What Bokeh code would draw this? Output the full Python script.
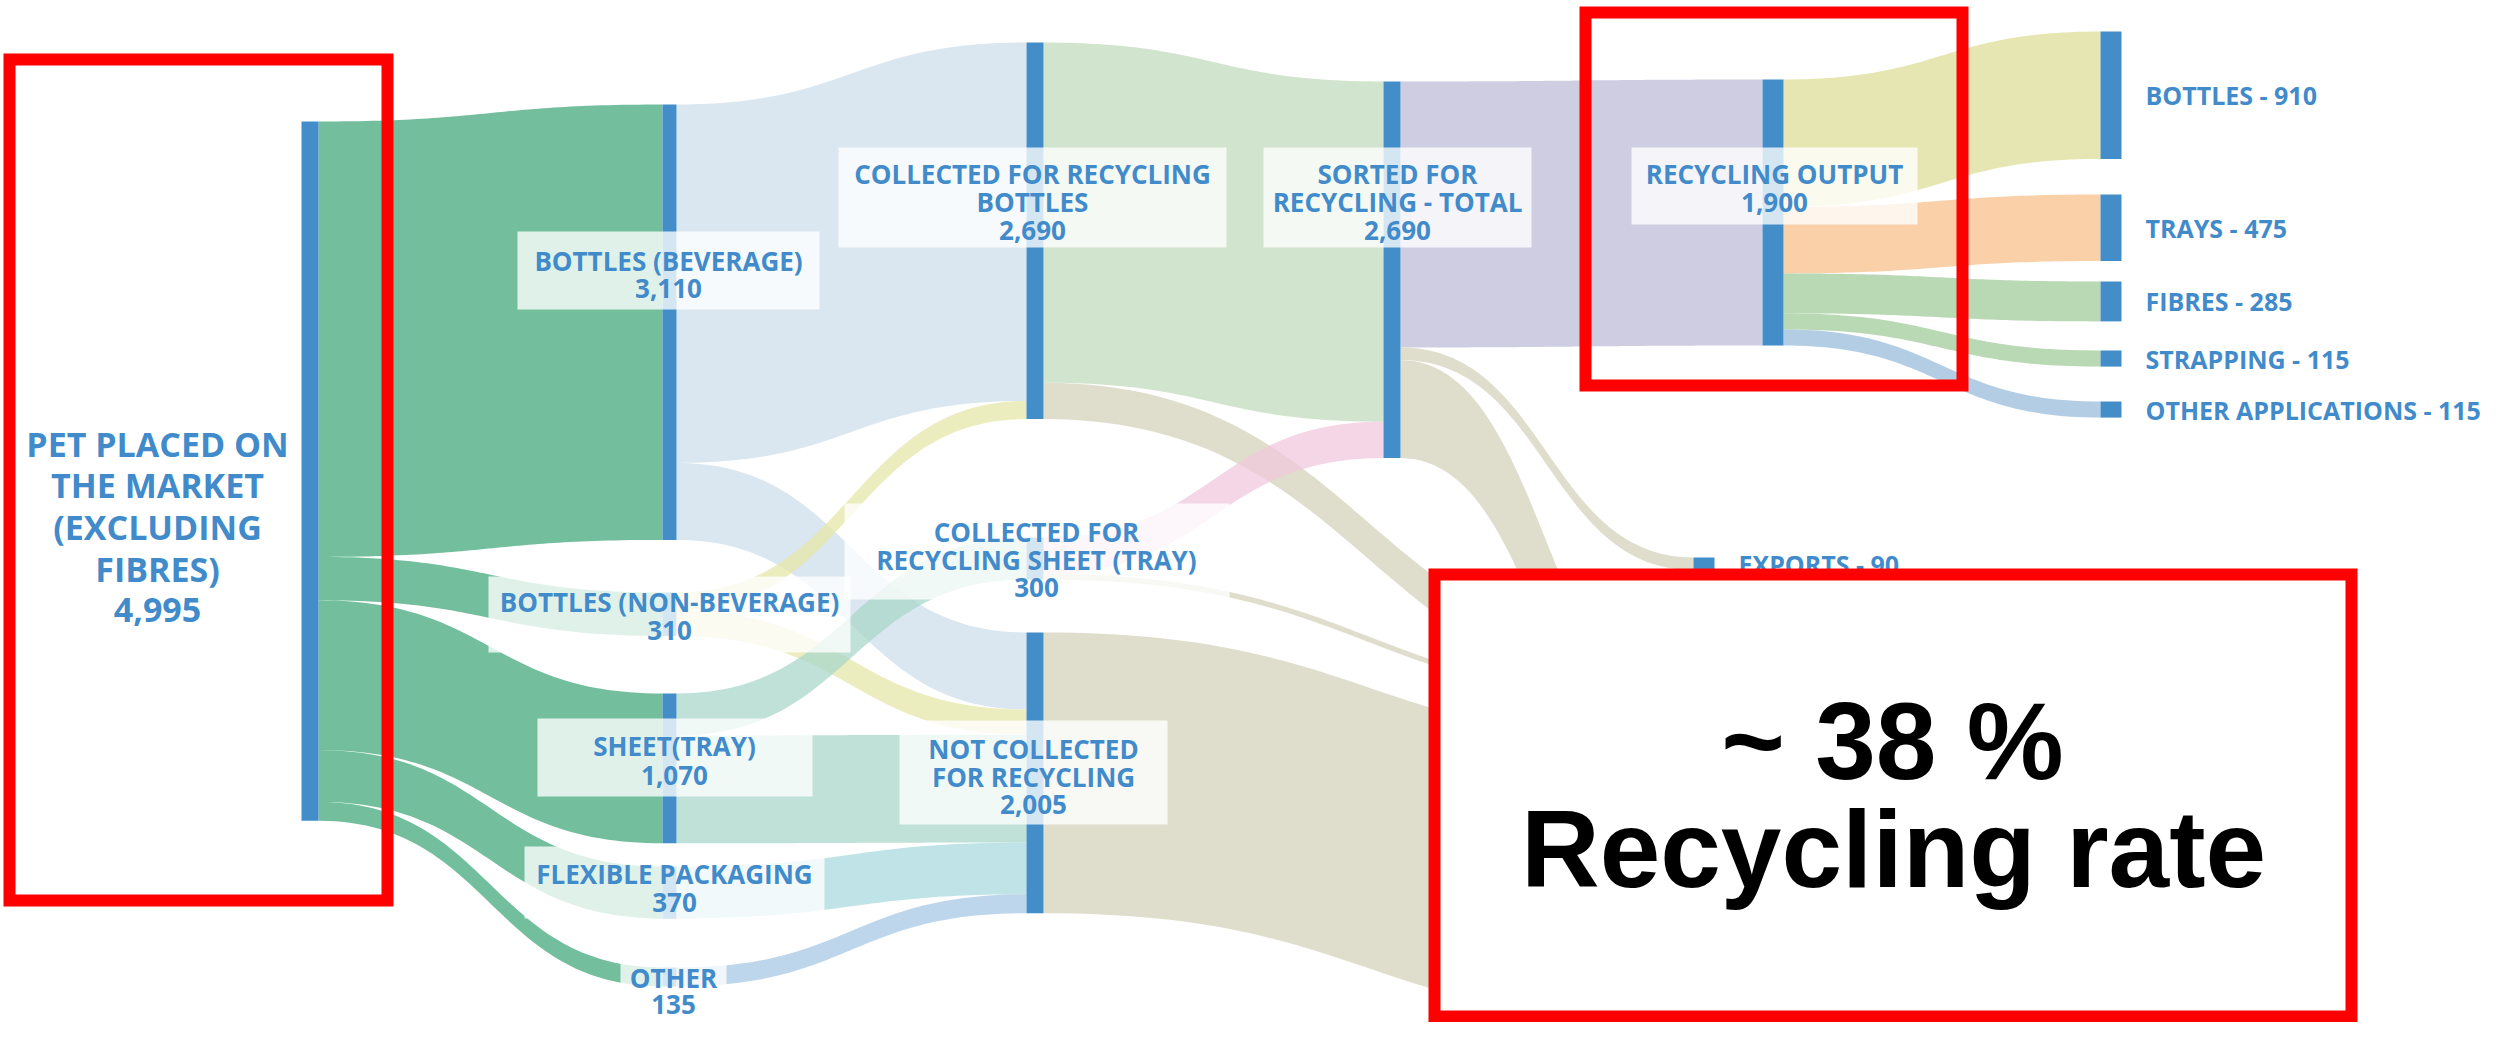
import numpy as np
from bokeh.plotting import figure
from bokeh.models import Range1d
from bokeh.core.properties import value
from bokeh.embed import file_html
from bokeh.resources import INLINE

# ---------------- DATA ----------------
node_ids = ["PET", "BEV", "NONBEV", "SHEET", "FLEX", "OTHER",
            "COLL_B", "COLL_S", "NOT_COLL", "SORTED", "REC_OUT", "EXPORTS",
            "OUT_BOTTLES", "OUT_TRAYS", "OUT_FIBRES", "OUT_STRAP", "OUT_OTHER",
            "LOSS_COLL", "LOSS_SORT", "DISPOSAL"]
node_names = ["PET PLACED ON\nTHE MARKET\n(EXCLUDING\nFIBRES)",
              "BOTTLES (BEVERAGE)", "BOTTLES (NON-BEVERAGE)", "SHEET(TRAY)",
              "FLEXIBLE PACKAGING", "OTHER",
              "COLLECTED FOR RECYCLING\nBOTTLES", "COLLECTED FOR\nRECYCLING SHEET (TRAY)",
              "NOT COLLECTED\nFOR RECYCLING", "SORTED FOR\nRECYCLING - TOTAL",
              "RECYCLING OUTPUT", "EXPORTS",
              "BOTTLES", "TRAYS", "FIBRES", "STRAPPING", "OTHER APPLICATIONS",
              "", "", ""]

link_source = ["PET", "PET", "PET", "PET", "PET",
               "BEV", "BEV", "NONBEV", "NONBEV", "SHEET", "SHEET", "FLEX", "OTHER",
               "COLL_B", "COLL_B", "COLL_S", "COLL_S", "NOT_COLL",
               "SORTED", "SORTED", "SORTED",
               "REC_OUT", "REC_OUT", "REC_OUT", "REC_OUT", "REC_OUT"]
link_target = ["BEV", "NONBEV", "SHEET", "FLEX", "OTHER",
               "COLL_B", "NOT_COLL", "COLL_B", "NOT_COLL", "COLL_S", "NOT_COLL", "NOT_COLL", "NOT_COLL",
               "SORTED", "LOSS_COLL", "SORTED", "LOSS_COLL", "DISPOSAL",
               "REC_OUT", "EXPORTS", "LOSS_SORT",
               "OUT_BOTTLES", "OUT_TRAYS", "OUT_FIBRES", "OUT_STRAP", "OUT_OTHER"]
link_value = [3110, 310, 1070, 370, 135,
              2560, 550, 130, 180, 300, 770, 370, 135,
              2430, 260, 260, 40, 2005,
              1900, 90, 700,
              910, 475, 285, 115, 115]
link_color = ["#73bf9d"] * 5 + \
             ["#dae6f0", "#dae6f0", "#ecedbe", "#ecedbe", "#bfe1d7", "#bfe1d7", "#c0e3e8", "#bdd6ec",
              "#d1e4cd", "#dfdecc", "#f4d6e6", "#dfdecc", "#dfdecc",
              "#cfcde2", "#dfdecc", "#dfdecc",
              "#e6e6b2", "#f9d0a8", "#b9d8b4", "#b9d8b4", "#b3cee4"]

big_text = ["~ 38 %", "Recycling rate"]

# ---------------- LAYOUT ----------------
K = 0.14  # px per unit
node_x = {"PET": 301, "BEV": 662, "NONBEV": 662, "SHEET": 662, "FLEX": 662, "OTHER": 662,
          "COLL_B": 1026, "COLL_S": 1026, "NOT_COLL": 1026, "SORTED": 1383, "REC_OUT": 1762,
          "EXPORTS": 1693, "OUT_BOTTLES": 2100, "OUT_TRAYS": 2100, "OUT_FIBRES": 2100,
          "OUT_STRAP": 2100, "OUT_OTHER": 2100, "LOSS_COLL": 1693, "LOSS_SORT": 1693, "DISPOSAL": 1693}
node_w = {"PET": 17, "BEV": 14, "NONBEV": 14, "SHEET": 14, "FLEX": 14, "OTHER": 14,
          "COLL_B": 17, "COLL_S": 17, "NOT_COLL": 17, "SORTED": 17, "REC_OUT": 21,
          "EXPORTS": 21, "OUT_BOTTLES": 21, "OUT_TRAYS": 21, "OUT_FIBRES": 21,
          "OUT_STRAP": 21, "OUT_OTHER": 21, "LOSS_COLL": 21, "LOSS_SORT": 21, "DISPOSAL": 21}
node_top = {"PET": 121, "BEV": 104, "NONBEV": 592, "SHEET": 693, "FLEX": 866, "OTHER": 967,
            "COLL_B": 42, "COLL_S": 537, "NOT_COLL": 632, "SORTED": 81, "REC_OUT": 79,
            "EXPORTS": 557, "OUT_BOTTLES": 31, "OUT_TRAYS": 194, "OUT_FIBRES": 281,
            "OUT_STRAP": 350, "OUT_OTHER": 401, "LOSS_COLL": 662, "LOSS_SORT": 725, "DISPOSAL": 742}
hidden = {"LOSS_COLL", "LOSS_SORT", "DISPOSAL"}

# boxed labels: center x, first line y, line spacing, (box x0, x1, y0, y1)
boxed = {
    "BEV": (668, 260, 27.5, (517, 819, 231, 309)),
    "NONBEV": (669, 601, 29, (488, 850, 576, 652)),
    "SHEET": (674, 745, 29.5, (537, 812, 718, 796)),
    "FLEX": (674, 873, 28.5, (524, 824, 846, 918)),
    "OTHER": (673, 977, 27, (620, 726, 955, 1030)),
    "COLL_B": (1032, 173, 28.5, (838, 1226, 147, 247)),
    "COLL_S": (1036, 531, 28, (844, 1229, 503, 599)),
    "NOT_COLL": (1033, 748, 28, (899, 1167, 720, 824)),
    "SORTED": (1397, 173, 28.5, (1263, 1531, 147, 247)),
    "REC_OUT": (1774, 173, 29, (1631, 1917, 147, 224)),
}
side = ["EXPORTS", "OUT_BOTTLES", "OUT_TRAYS", "OUT_FIBRES", "OUT_STRAP", "OUT_OTHER"]

BLUE = "#438dc9"
TXT = "#418bcb"
FONT = value("Open Sans")
ALPHA = 0.75


def base_color(hexc, a):
    r, g, b = int(hexc[1:3], 16), int(hexc[3:5], 16), int(hexc[5:7], 16)
    f = lambda c: int(max(0, min(255, round(255 - (255 - c) / a))))
    return "#%02x%02x%02x" % (f(r), f(g), f(b))


# node values
vin = {n: 0 for n in node_ids}
vout = {n: 0 for n in node_ids}
for s, t, v in zip(link_source, link_target, link_value):
    vout[s] += v
    vin[t] += v
node_val = {n: max(vin[n], vout[n]) for n in node_ids}
name_of = dict(zip(node_ids, node_names))

W, H = 2494, 1022
p = figure(width=W, height=H, x_range=Range1d(0, W), y_range=Range1d(H, 0),
           output_backend="svg", toolbar_location=None, min_border=0,
           x_axis_location=None, y_axis_location=None)
p.grid.visible = False
p.outline_line_color = None
p.background_fill_color = "white"

# flows
out_off = {n: 0.0 for n in node_ids}
in_off = {n: 0.0 for n in node_ids}
xs_all, ys_all, cols = [], [], []
tt = np.linspace(0, 1, 60)
for s, t, v, c in zip(link_source, link_target, link_value, link_color):
    h = v * K
    y0 = node_top[s] + out_off[s]
    out_off[s] += h
    y1 = node_top[t] + in_off[t]
    in_off[t] += h
    x0 = node_x[s] + node_w[s]
    x1 = node_x[t]
    xm = (x0 + x1) / 2
    bx = (1 - tt) ** 3 * x0 + 3 * (1 - tt) ** 2 * tt * xm + 3 * (1 - tt) * tt ** 2 * xm + tt ** 3 * x1
    fy = 3 * tt ** 2 - 2 * tt ** 3
    top = y0 + (y1 - y0) * fy
    bot = top + h
    xs_all.append(list(bx) + list(bx[::-1]))
    ys_all.append(list(top) + list(bot[::-1]))
    cols.append(base_color(c, ALPHA))
p.patches(xs_all, ys_all, fill_color=cols, fill_alpha=ALPHA, line_color=None)

# node bars
vis = [n for n in node_ids if n not in hidden]
p.quad(left=[node_x[n] for n in vis], right=[node_x[n] + node_w[n] for n in vis],
       top=[node_top[n] for n in vis], bottom=[node_top[n] + node_val[n] * K for n in vis],
       fill_color=BLUE, line_color=None)

# label boxes
bl = list(boxed.keys())
p.quad(left=[boxed[n][3][0] for n in bl], right=[boxed[n][3][1] for n in bl],
       top=[boxed[n][3][2] for n in bl], bottom=[boxed[n][3][3] for n in bl],
       fill_color="white", fill_alpha=0.78, line_color=None)

tx, ty, tl = [], [], []
for n in bl:
    cx, y0, sp, _ = boxed[n]
    lines = name_of[n].split("\n") + [f"{node_val[n]:,}"]
    for i, ln in enumerate(lines):
        tx.append(cx)
        ty.append(y0 + i * sp)
        tl.append(ln)
p.text(tx, ty, text=tl, text_font=FONT, text_font_size="26px", text_font_style="bold",
       text_color=TXT, text_align="center", text_baseline="middle")

# PET label
pet_lines = name_of["PET"].split("\n") + [f"{node_val['PET']:,}"]
p.text([157] * len(pet_lines), [443 + i * 41.7 for i in range(len(pet_lines))], text=pet_lines,
       text_font=FONT, text_font_size="34px", text_font_style="bold", text_color=TXT,
       text_align="center", text_baseline="middle")

# side labels
p.text([node_x[n] + node_w[n] + 24 for n in side],
       [node_top[n] + node_val[n] * K / 2 for n in side],
       text=[f"{name_of[n]} - {node_val[n]:,}" for n in side],
       text_font=FONT, text_font_size="25px", text_font_style="bold", text_color=TXT,
       text_align="left", text_baseline="middle")

# red highlight boxes (outline only)
p.quad(left=[9, 1585], right=[387, 1962], top=[59, 12], bottom=[900, 385],
       fill_color=None, line_color="#ff0000", line_width=12, line_join="miter")
# red box with white fill
p.quad(left=[1434], right=[2351], top=[574], bottom=[1016],
       fill_color="white", line_color="#ff0000", line_width=12, line_join="miter")

p.text([1892, 1893], [740, 848], text=big_text, text_font=value("Liberation Sans"),
       text_font_style="bold", text_font_size="109px", text_color="black",
       text_align="center", text_baseline="middle")

open("out.html", "w").write(file_html(p, INLINE))
